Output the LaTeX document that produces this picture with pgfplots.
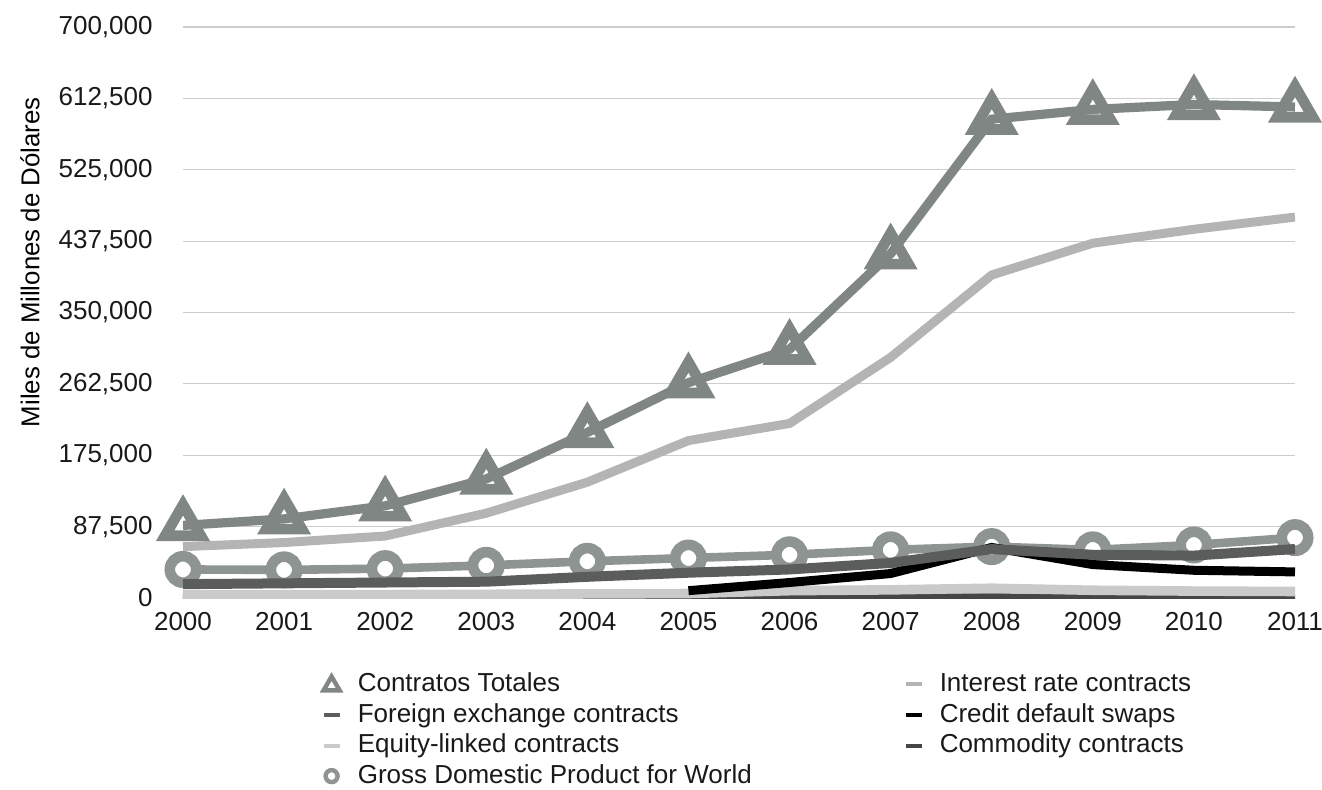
\documentclass[border=0pt]{standalone}
\usepackage{pgfplots}
\pgfplotsset{compat=1.18}
\usepackage{fontspec}
\setmainfont{Liberation Sans}
\definecolor{ctot}{RGB}{128,134,131}
\definecolor{gdpc}{RGB}{142,148,145}
\definecolor{irc}{RGB}{180,180,180}
\definecolor{fxc}{RGB}{90,93,91}
\definecolor{eqc}{RGB}{202,202,202}
\definecolor{comc}{RGB}{70,70,70}
\definecolor{gridc}{RGB}{205,205,205}
\begin{document}
\begin{tikzpicture}
\begin{axis}[
  scale only axis, width=556pt, height=285.5pt,
  xmin=2000, xmax=2011, ymin=0, ymax=700000,
  xtick={2000,2001,2002,2003,2004,2005,2006,2007,2008,2009,2010,2011},
  xticklabels={2000,2001,2002,2003,2004,2005,2006,2007,2008,2009,2010,2011},
  ytick={0,87500,175000,262500,350000,437500,525000,612500,700000},
  yticklabels={0,{87,500},{175,000},{262,500},{350,000},{437,500},{525,000},{612,500},{700,000}},
  axis line style={draw=none}, major tick length=0pt,
  ymajorgrids, grid style={line width=0.6pt, gridc},
  tick label style={font=\fontsize{13}{15}\selectfont, text=black!90, inner sep=0pt},
  yticklabel style={xshift=-15pt},
  xticklabel style={yshift=-7pt},
  scaled y ticks=false,
  ylabel={Miles de Millones de Dólares},
  ylabel style={font=\fontsize{12.9}{15}\selectfont, at={(axis description cs:-0.1376,0.588)}, rotate=0, anchor=center},
  clip mode=individual,
  legend columns=2,
  legend cell align=left,
  legend style={at={(axis description cs:0.1187,-0.121)}, anchor=north west, draw=none, fill=none,
    font=\fontsize{13}{15}\selectfont, text=black!90,
    nodes={inner sep=0pt, text height=10pt, text depth=2.8pt},
    row sep=2.5pt,
    /tikz/every odd column/.append style={column sep=8pt},
    /tikz/every even column/.append style={column sep=76pt}},
]
% GDP
\addplot[forget plot, gdpc, line width=4.3pt, mark=*, mark size=6.6pt, mark options={fill=white, draw=gdpc, line width=5.3pt}]
  coordinates {(2000,35000)(2001,34500)(2002,36000)(2003,40000)(2004,45000)(2005,49000)(2006,53000)(2007,59000)(2008,63000)(2009,59000)(2010,65000)(2011,74000)};
% Commodity
\addplot[forget plot, comc, line width=4pt] coordinates {(2000,0)(2001,0)(2002,0)(2003,0)(2004,0)(2005,0)(2006,0)(2007,600)(2008,700)(2009,300)(2010,0)(2011,0)};
% Equity
\addplot[forget plot, eqc, line width=4.8pt] coordinates {(2000,4000)(2001,4000)(2002,4200)(2003,4500)(2004,5000)(2005,5500)(2006,9000)(2007,10000)(2008,12000)(2009,9500)(2010,8500)(2011,8000)};
% CDS
\addplot[forget plot, black, line width=4.5pt] coordinates {(2005,9000)(2006,19000)(2007,30000)(2008,62000)(2009,41000)(2010,34000)(2011,32000)};
% FX
\addplot[forget plot, fxc, line width=5pt] coordinates {(2000,17000)(2001,18000)(2002,19000)(2003,20000)(2004,26000)(2005,31000)(2006,35000)(2007,43000)(2008,60000)(2009,53000)(2010,52000)(2011,60000)};
% Interest rate
\addplot[forget plot, irc, line width=4.5pt] coordinates {(2000,63000)(2001,68000)(2002,76000)(2003,104000)(2004,142000)(2005,193000)(2006,214000)(2007,295000)(2008,396000)(2009,435000)(2010,452000)(2011,467000)};
% Contratos Totales
\addplot[forget plot, ctot, line width=4.6pt, mark=triangle, mark size=10.3pt, mark options={fill=white, draw=ctot, line width=5.3pt, line join=miter}]
  coordinates {(2000,89000)(2001,97000)(2002,113000)(2003,146000)(2004,203000)(2005,264000)(2006,305000)(2007,422000)(2008,587000)(2009,599000)(2010,605000)(2011,602000)};

\addlegendimage{legend image code/.code={\draw[ctot, line width=2.2pt, fill=white, line join=miter] (0.5pt,-3pt) -- (8.5pt,-3pt) -- (4.5pt,3.9pt) -- cycle;}}
\addlegendentry{Contratos Totales}
\addlegendimage{legend image code/.code={\draw[irc, line width=2pt] (0.5pt,0pt) -- (8.5pt,0pt);}}
\addlegendentry{Interest rate contracts}
\addlegendimage{legend image code/.code={\draw[fxc, line width=2pt] (0.5pt,0pt) -- (8.5pt,0pt);}}
\addlegendentry{Foreign exchange contracts}
\addlegendimage{legend image code/.code={\draw[black, line width=2pt] (0.5pt,0pt) -- (8.5pt,0pt);}}
\addlegendentry{Credit default swaps}
\addlegendimage{legend image code/.code={\draw[eqc, line width=2pt] (0.5pt,0pt) -- (8.5pt,0pt);}}
\addlegendentry{Equity-linked contracts}
\addlegendimage{legend image code/.code={\draw[comc, line width=2pt] (0.5pt,0pt) -- (8.5pt,0pt);}}
\addlegendentry{Commodity contracts}
\addlegendimage{legend image code/.code={\draw[gdpc, line width=2.2pt, fill=white] (4.5pt,0pt) circle (3pt);}}
\addlegendentry{Gross Domestic Product for World}
\end{axis}
\pgfresetboundingbox
\path (-91.5pt,-95.5pt) rectangle (569.5pt,299pt);
\end{tikzpicture}
\end{document}
